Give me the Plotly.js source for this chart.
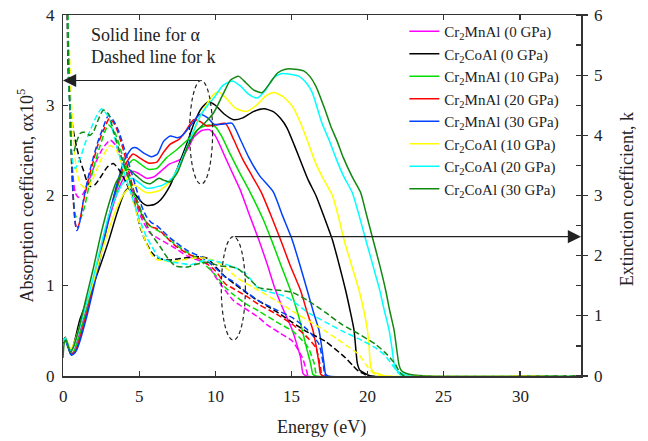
<!DOCTYPE html>
<html>
<head>
<meta charset="utf-8">
<script src="https://cdn.plot.ly/plotly-3.0.1.min.js"></script>
<style>
html,body{margin:0;padding:0;background:#fff;}
#chart{width:648px;height:441px;}
</style>
</head>
<body>
<div id="chart"></div>
<script>
// ---- Legend labels and colours ----
const seriesNames = ['Cr<sub>2</sub>MnAl (0 GPa)','Cr<sub>2</sub>CoAl (0 GPa)','Cr<sub>2</sub>MnAl (10 GPa)','Cr<sub>2</sub>MnAl (20 GPa)','Cr<sub>2</sub>MnAl (30 GPa)','Cr<sub>2</sub>CoAl (10 GPa)','Cr<sub>2</sub>CoAl (20 GPa)','Cr<sub>2</sub>CoAl (30 GPa)'];
const seriesColors = ['#ff00ff','#000000','#00dd00','#ff0000','#0040ff','#ffff00','#00ffff','#118811'];

// ---- Tick values ----
const xTickVals = [0,5,10,15,20,25,30];
const yTickVals = [0,1,2,3,4];
const y2TickVals = [0,1,2,3,4,5,6];

// ---- Absorption coefficient alpha (x10^5), solid lines ----
const eAlphaMn0 = [0,0.15,0.3,0.5,0.7,1.0,1.5,2.0,2.5,3.0,3.5,4.0,4.6,5.0,5.5,6.0,6.5,7.0,7.7,8.2,8.6,9.1,9.6,10.0,10.66,11.2,11.64,12.2,12.85,13.4,13.95,14.5,15.05,15.4,15.6,15.75,16.0,34];
const alphaMn0  = [0.38,0.42,0.36,0.25,0.27,0.42,0.72,1.02,1.38,1.72,2.0,2.2,2.27,2.24,2.19,2.21,2.28,2.35,2.4,2.52,2.65,2.72,2.73,2.66,2.42,2.22,2.06,1.8,1.51,1.24,0.95,0.72,0.51,0.32,0.2,0.03,0,0];

const eAlphaCo0 = [0,0.15,0.3,0.5,0.7,1.1,1.5,1.9,2.5,3.0,3.5,4.0,4.3,4.7,5.2,5.5,6.0,6.4,7.0,7.5,8.14,8.6,9.1,9.56,10.0,10.6,11.2,11.8,12.5,13.2,13.8,14.3,14.7,15.2,15.6,16.1,16.6,17.1,17.68,18.1,18.55,18.85,19.1,19.22,19.32,19.5,19.8,20.2,34];
const alphaCo0  = [0.38,0.43,0.36,0.28,0.35,0.62,0.8,0.97,1.25,1.5,1.78,2.02,2.08,2.02,1.92,1.89,1.9,1.95,2.1,2.3,2.58,2.8,2.97,3.04,3.0,2.9,2.84,2.86,2.93,2.96,2.93,2.85,2.75,2.55,2.38,2.17,2.0,1.78,1.51,1.25,0.95,0.72,0.51,0.3,0.14,0.06,0.03,0,0];

const eAlphaMn10 = [0,0.15,0.3,0.5,0.7,1.0,1.5,2.0,2.5,3.0,3.5,4.0,4.63,5.0,5.6,6.16,6.8,7.48,8.2,9.0,9.6,10.0,10.4,11.0,11.6,12.3,13.1,13.7,14.3,14.93,15.4,15.7,16.0,16.25,16.4,16.6,34];
const alphaMn10  = [0.38,0.42,0.35,0.24,0.26,0.4,0.7,1.02,1.38,1.75,2.05,2.28,2.4,2.36,2.29,2.3,2.42,2.51,2.62,2.75,2.78,2.76,2.66,2.45,2.25,2.03,1.75,1.5,1.23,0.95,0.7,0.51,0.3,0.14,0.02,0,0];

const eAlphaMn20 = [0,0.15,0.3,0.55,0.8,1.0,1.5,2.0,2.5,3.0,3.5,4.0,4.6,5.0,5.6,6.16,6.6,7.04,7.6,8.0,8.57,9.0,9.45,10.0,10.66,11.2,11.8,12.4,13.0,13.6,14.28,14.9,15.59,16.0,16.4,16.65,16.8,16.91,17.1,34];
const alphaMn20  = [0.37,0.41,0.34,0.24,0.27,0.36,0.66,1.0,1.38,1.75,2.08,2.32,2.46,2.42,2.36,2.37,2.48,2.57,2.62,2.7,2.84,2.82,2.77,2.78,2.8,2.62,2.4,2.22,2.04,1.8,1.51,1.23,0.95,0.72,0.51,0.3,0.14,0.02,0,0];

const eAlphaMn30 = [0,0.15,0.3,0.55,0.8,1.0,1.5,2.0,2.5,3.0,3.5,4.0,4.5,4.8,5.3,5.8,6.2,6.6,7.04,7.5,7.8,8.4,9.0,9.5,9.9,10.5,11.1,11.64,12.2,12.9,13.8,14.4,15.04,15.55,16.03,16.45,16.8,17.0,17.13,17.24,17.4,34];
const alphaMn30  = [0.36,0.4,0.33,0.23,0.26,0.33,0.62,0.97,1.35,1.75,2.1,2.38,2.52,2.53,2.47,2.43,2.46,2.6,2.66,2.64,2.66,2.78,2.9,2.86,2.79,2.79,2.8,2.62,2.42,2.22,2.04,1.78,1.51,1.23,0.95,0.7,0.51,0.3,0.14,0.02,0,0];

const eAlphaCo10 = [0,0.15,0.3,0.5,0.7,1.0,1.5,2.0,2.5,3.0,3.5,4.0,4.63,5.0,5.5,6.0,6.4,7.0,7.6,8.2,8.8,9.4,9.9,10.2,10.7,11.3,12.0,12.7,13.3,13.84,14.4,15.05,15.6,16.1,16.6,17.1,17.68,18.1,18.44,18.9,19.43,19.75,19.98,20.1,20.2,20.4,20.8,21.2,34];
const alphaCo10  = [0.38,0.42,0.37,0.3,0.35,0.5,0.78,1.05,1.35,1.62,1.85,2.02,2.12,2.08,2.03,2.04,2.06,2.15,2.32,2.55,2.8,3.0,3.12,3.15,3.08,2.97,2.93,3.0,3.1,3.14,3.1,2.99,2.8,2.58,2.35,2.18,2.0,1.75,1.51,1.25,0.95,0.72,0.51,0.3,0.1,0.04,0.02,0,0];

const eAlphaCo20 = [0,0.15,0.3,0.5,0.7,1.0,1.5,2.0,2.5,3.0,3.5,4.0,4.52,5.0,5.5,6.0,6.6,7.2,7.8,8.4,9.0,9.5,9.9,10.5,11.1,11.6,12.2,12.74,13.3,13.8,14.3,15.0,15.5,16.0,16.36,17.0,17.5,17.9,18.4,18.99,19.4,19.87,20.35,20.79,21.1,21.4,21.6,21.73,21.9,22.2,22.8,34];
const alphaCo20  = [0.38,0.42,0.36,0.28,0.32,0.48,0.78,1.1,1.45,1.78,2.0,2.15,2.19,2.14,2.08,2.09,2.12,2.2,2.4,2.65,2.88,3.0,3.08,3.22,3.27,3.22,3.12,3.08,3.17,3.3,3.35,3.34,3.32,3.24,3.14,2.8,2.6,2.42,2.22,2.03,1.8,1.51,1.22,0.95,0.72,0.51,0.3,0.14,0.06,0.03,0,0];

const eAlphaCo30 = [0,0.1,0.2,0.35,0.5,0.7,1.0,1.5,2.0,2.5,3.0,3.5,4.0,4.3,4.8,5.3,5.7,6.3,6.6,7.0,7.5,8.2,8.8,9.4,9.9,10.5,11.0,11.53,12.0,12.5,13.07,13.6,14.1,14.6,15.2,15.8,16.2,16.6,17.2,17.57,18.0,18.4,19.0,19.54,19.9,20.35,20.8,21.18,21.45,21.73,21.9,22.06,22.2,22.5,23.0,24.0,34];
const alphaCo30  = [0.2,0.38,0.4,0.33,0.26,0.33,0.5,0.85,1.2,1.58,1.9,2.15,2.27,2.29,2.22,2.15,2.13,2.19,2.17,2.15,2.25,2.55,2.72,2.82,2.92,3.12,3.28,3.32,3.25,3.17,3.14,3.25,3.36,3.4,3.4,3.38,3.32,3.21,2.95,2.77,2.6,2.42,2.2,2.03,1.8,1.51,1.22,0.95,0.72,0.51,0.3,0.12,0.06,0.03,0.01,0,0];

// ---- Extinction coefficient k, dashed lines ----
const eKMn0 = [0.05,0.2,0.35,0.5,0.65,0.8,1.0,1.3,1.7,2.1,2.6,3.1,3.5,3.9,4.3,4.7,5.1,5.7,6.3,7.26,8.1,9.45,10.0,10.66,11.2,11.6,12.85,13.4,14.2,15.05,15.7,16.0,16.1,34];
const kMn0  = [12,7.5,5.5,4.0,3.35,3.05,2.97,3.02,3.25,3.52,3.78,3.92,3.82,3.6,3.3,2.95,2.65,2.38,2.28,2.14,2.0,1.86,1.65,1.42,1.25,1.18,0.97,0.85,0.72,0.58,0.31,0.08,0,0];

const eKCo0 = [0.05,0.2,0.35,0.5,0.7,0.9,1.1,1.34,1.55,1.78,2.1,2.5,2.9,3.3,3.7,4.19,4.6,5.07,5.4,5.83,6.16,6.7,7.04,7.6,8.36,9.0,9.45,10.0,10.66,11.3,12.5,13.95,15.0,15.9,17.2,18.55,19.0,19.4,19.8,20.1,34];
const kCo0  = [12,7.5,5.0,4.4,4.05,3.8,3.6,3.42,3.25,3.15,3.18,3.32,3.47,3.53,3.42,3.19,2.95,2.47,2.25,2.05,1.97,1.93,1.93,1.95,1.97,1.98,1.96,1.82,1.65,1.52,1.3,1.08,0.9,0.75,0.58,0.3,0.18,0.08,0.03,0,0];

const eKMn10 = [0.05,0.2,0.35,0.46,0.57,0.7,0.85,1.12,1.4,1.7,2.0,2.4,2.98,3.4,3.8,4.2,4.6,5.0,5.4,5.8,6.2,6.6,7.2,8.0,9.0,10.0,10.66,11.2,12.0,12.85,14.0,15.05,15.6,16.1,16.5,16.7,34];
const kMn10  = [12,8,5.5,4.4,3.5,2.9,2.65,2.61,2.8,3.15,3.45,3.8,4.17,4.05,3.75,3.4,3.05,2.78,2.58,2.48,2.42,2.35,2.22,2.08,1.92,1.68,1.47,1.35,1.2,1.08,0.9,0.75,0.62,0.47,0.2,0,0];

const eKMn20 = [0.05,0.2,0.35,0.46,0.57,0.68,0.8,0.9,1.05,1.34,1.65,2.0,2.3,2.65,3.05,3.4,3.7,4.0,4.3,4.6,4.9,5.2,5.5,5.8,6.16,6.5,7.0,7.4,8.2,9.1,10.0,10.66,11.2,12.0,12.85,14.0,15.05,16.0,16.6,16.9,17.05,34];
const kMn20  = [12,8,5.5,4.4,3.5,2.9,2.55,2.45,2.52,2.9,3.25,3.58,3.85,4.08,4.28,4.18,3.98,3.72,3.42,3.12,2.85,2.65,2.55,2.48,2.45,2.38,2.25,2.16,2.03,1.93,1.75,1.53,1.45,1.33,1.19,1.03,0.86,0.65,0.47,0.15,0,0];

const eKMn30 = [0.05,0.2,0.35,0.46,0.57,0.68,0.8,0.9,1.05,1.34,1.65,2.0,2.3,2.65,2.98,3.3,3.64,3.9,4.19,4.5,4.85,5.2,5.5,5.8,6.16,6.5,7.0,7.4,8.2,9.1,10.0,10.66,11.1,12.0,12.85,14.0,15.05,16.0,16.8,17.1,17.25,34];
const kMn30  = [12,8,5.6,4.5,3.6,2.95,2.55,2.42,2.5,2.92,3.3,3.64,3.9,4.14,4.33,4.25,4.08,3.88,3.64,3.38,3.08,2.8,2.64,2.55,2.5,2.42,2.3,2.22,2.08,1.97,1.8,1.64,1.58,1.4,1.25,1.1,0.97,0.78,0.53,0.17,0,0];

const eKCo10 = [0.05,0.25,0.46,0.68,0.9,1.12,1.4,1.7,2.0,2.5,3.1,3.5,3.9,4.2,4.6,5.0,5.4,5.8,6.1,6.5,7.2,7.8,8.6,9.3,9.9,10.66,11.5,12.85,14.0,15.05,16.1,17.2,18.3,19.4,20.0,20.3,20.6,21.0,34];
const kCo10  = [12,7,5.1,3.95,3.4,3.2,3.13,3.16,3.3,3.6,3.83,3.75,3.5,3.25,2.9,2.55,2.25,2.02,1.94,1.92,1.9,1.93,1.96,1.96,1.92,1.8,1.62,1.42,1.25,1.08,0.92,0.75,0.56,0.36,0.15,0.06,0.02,0,0];

const eKCo20 = [0.05,0.2,0.35,0.45,0.6,0.8,1.1,1.5,1.9,2.2,2.54,3.0,3.5,4.0,4.5,5.0,5.5,6.0,6.27,7.0,7.8,8.36,9.3,9.9,10.66,11.3,12.0,12.85,13.5,14.5,15.05,16.1,17.2,18.3,19.4,20.5,21.1,21.6,22.0,22.3,34];
const kCo20  = [12,8,5.5,4.4,3.6,3.45,3.6,3.9,4.15,4.32,4.44,4.3,3.85,3.4,3.0,2.62,2.3,2.08,1.97,1.9,1.87,1.85,1.92,1.92,1.86,1.8,1.7,1.45,1.4,1.33,1.25,1.05,0.9,0.75,0.62,0.47,0.35,0.19,0.05,0,0];

const eKCo30 = [0.05,0.2,0.35,0.5,0.57,0.7,0.9,1.12,1.4,1.78,2.0,2.3,2.65,3.0,3.3,3.97,4.63,5.2,5.72,6.4,6.9,7.37,8.14,8.8,9.45,10.3,10.9,11.5,12.2,12.85,13.5,14.3,15.05,16.1,17.2,18.3,19.4,20.5,21.3,21.8,22.1,22.4,34];
const kCo30  = [12,8,5.5,4.0,3.69,3.72,3.9,4.03,4.05,4.0,4.06,4.25,4.42,4.35,4.08,3.53,3.08,2.7,2.39,2.14,1.95,1.83,1.81,1.86,1.89,1.83,1.82,1.78,1.62,1.47,1.44,1.42,1.39,1.25,1.06,0.86,0.7,0.53,0.35,0.2,0.06,0,0];

const alphaSets = [[eAlphaMn0,alphaMn0],[eAlphaCo0,alphaCo0],[eAlphaMn10,alphaMn10],[eAlphaMn20,alphaMn20],[eAlphaMn30,alphaMn30],[eAlphaCo10,alphaCo10],[eAlphaCo20,alphaCo20],[eAlphaCo30,alphaCo30]];
const kSets = [[eKMn0,kMn0],[eKCo0,kCo0],[eKMn10,kMn10],[eKMn20,kMn20],[eKMn30,kMn30],[eKCo10,kCo10],[eKCo20,kCo20],[eKCo30,kCo30]];

// ---- Text ----
const xTitle = 'Energy (eV)';
const yTitle = 'Absorption coefficient, \u03b1x10<sup>5</sup>';
const y2Title = 'Extinction coefficient, k';
const noteLines = ['Solid line for \u03b1','Dashed line for k'];

const FONT = "'Liberation Serif', 'Times New Roman', Times, serif";
const INK = '#222';

const traces = [];
alphaSets.forEach((s,i)=>{
  traces.push({x:s[0], y:s[1], type:'scatter', mode:'lines', name:seriesNames[i],
    line:{color:seriesColors[i], width:1.5, shape:'spline', smoothing:0.6}, yaxis:'y', showlegend:true});
});
kSets.forEach((s,i)=>{
  traces.push({x:s[0], y:s[1], type:'scatter', mode:'lines', name:seriesNames[i],
    line:{color:seriesColors[i], width:1.5, dash:'6px,3px', shape:'spline', smoothing:0.6}, yaxis:'y2', showlegend:false});
});

const tickFont = {family:FONT, size:17, color:INK};
const titleFont = {family:FONT, size:18, color:INK};

const annotations = [
  {xref:'paper', yref:'paper', x:0.05, y:0.944, xanchor:'left', yanchor:'middle', showarrow:false, text:noteLines[0], font:titleFont},
  {xref:'paper', yref:'paper', x:0.05, y:0.883, xanchor:'left', yanchor:'middle', showarrow:false, text:noteLines[1], font:titleFont},
  {xref:'x', yref:'y', x:0, y:3.274, axref:'x', ayref:'y', ax:9.07, ay:3.274, text:'', showarrow:true, arrowhead:2, arrowsize:2.2, arrowwidth:1.2, arrowcolor:'#222'},
  {xref:'x', yref:'y', x:34, y:1.544, axref:'x', ayref:'y', ax:11.18, ay:1.544, text:'', showarrow:true, arrowhead:2, arrowsize:2.2, arrowwidth:1.2, arrowcolor:'#222'},
  // axis titles
  {xref:'paper', yref:'paper', x:0.499, y:-0.1425, xanchor:'center', yanchor:'middle', showarrow:false, text:xTitle, font:titleFont},
  {xref:'paper', yref:'paper', x:-0.0715, y:0.5, xanchor:'center', yanchor:'middle', textangle:-90, showarrow:false, text:yTitle, font:titleFont},
  {xref:'paper', yref:'paper', x:1.089, y:0.49, xanchor:'center', yanchor:'middle', textangle:-90, showarrow:false, text:y2Title, font:titleFont}
];
xTickVals.forEach(v=>annotations.push({xref:'x', yref:'paper', x:v, y:0, xanchor:'center', yanchor:'top', yshift:-9, showarrow:false, text:String(v), font:tickFont}));
yTickVals.forEach(v=>annotations.push({xref:'paper', yref:'y', x:0, y:v, xanchor:'right', yanchor:'middle', xshift:-6, showarrow:false, text:String(v), font:tickFont}));
y2TickVals.forEach(v=>annotations.push({xref:'paper', yref:'y2', x:1, y:v, xanchor:'left', yanchor:'middle', xshift:11, showarrow:false, text:String(v), font:tickFont}));

const layout = {
  width:648, height:441,
  margin:{l:63, r:67, t:15, b:65},
  paper_bgcolor:'#fff', plot_bgcolor:'#fff',
  font:{family:FONT, color:INK, size:16},
  showlegend:true,
  legend:{x:0.659, y:1.0, xanchor:'left', yanchor:'top', bgcolor:'rgba(0,0,0,0)', font:{family:FONT, size:15, color:INK}, tracegroupgap:0},
  xaxis:{range:[0,34], tickvals:xTickVals, ticks:'inside', ticklen:5, tickwidth:1.2, tickcolor:'#333', showticklabels:false,
    showline:true, linecolor:'#333', linewidth:1.5, mirror:'ticks', showgrid:false, zeroline:false},
  yaxis:{range:[0,4], tickvals:yTickVals, ticks:'inside', ticklen:5, tickwidth:1.2, tickcolor:'#333', showticklabels:false,
    showline:true, linecolor:'#333', linewidth:1.5, showgrid:false, zeroline:false},
  yaxis2:{range:[0,6], tickvals:y2TickVals, overlaying:'y', side:'right', ticks:'outside', ticklen:5, tickwidth:1.2, tickcolor:'#333', showticklabels:false,
    minor:{dtick:0.5, ticks:'inside', ticklen:5, tickwidth:1.2, tickcolor:'#333'},
    showline:true, linecolor:'#333', linewidth:1.5, showgrid:false, zeroline:false},
  shapes:[
    {type:'circle', xref:'x', yref:'y', x0:8.31, x1:9.82, y0:2.127, y1:3.274, line:{color:'#222', width:1.2, dash:'4px,3px'}},
    {type:'circle', xref:'x', yref:'y', x0:10.39, x1:11.97, y0:0.397, y1:1.544, line:{color:'#222', width:1.2, dash:'4px,3px'}}
  ],
  annotations:annotations
};

Plotly.newPlot('chart', traces, layout, {displayModeBar:false, staticPlot:true});
</script>
</body>
</html>
